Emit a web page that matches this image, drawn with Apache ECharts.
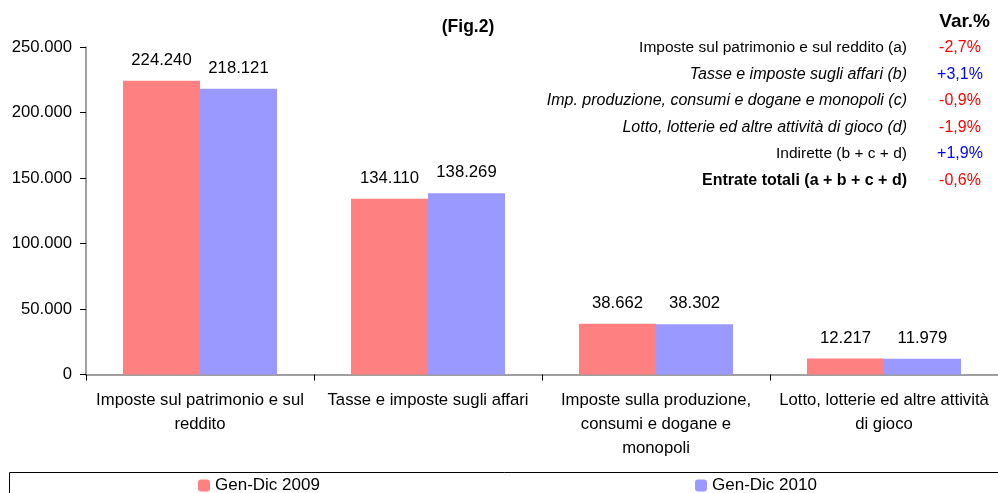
<!DOCTYPE html>
<html>
<head>
<meta charset="utf-8">
<script src="https://cdn.jsdelivr.net/npm/echarts@6/dist/echarts.min.js"></script>
<style>
  html, body { margin: 0; padding: 0; background: #fff; }
  #chart { width: 998px; height: 493px; }
</style>
</head>
<body>
<div id="chart"></div>
<script>
// dati (milioni di euro)
const categories = [
  'Imposte sul patrimonio e sul\nreddito',
  'Tasse e imposte sugli affari',
  'Imposte sulla produzione,\nconsumi e dogane e\nmonopoli',
  'Lotto, lotterie ed altre attività\ndi gioco'
]
const gen2009 = [224240, 134110, 38662, 12217]
const gen2010 = [218121, 138269, 38302, 11979]

// tabella variazioni a destra
const varLabels = [
  'Imposte sul patrimonio e sul reddito (a)',
  'Tasse e imposte sugli affari (b)',
  'Imp. produzione, consumi e dogane e monopoli (c)',
  'Lotto, lotterie ed altre attività di gioco (d)',
  'Indirette (b + c + d)',
  'Entrate totali (a + b + c + d)'
]
const varValues = ['-2,7%', '+3,1%', '-0,9%', '-1,9%', '+1,9%', '-0,6%']
const varStyles = ['normal', 'italic', 'italic', 'italic', 'normal', 'bold']

const FONT = '"Liberation Sans", Arial, sans-serif'
const FS = 16.7
const fmt = v => String(v).replace(/\B(?=(\d{3})+(?!\d))/g, '.')

const chart = echarts.init(document.getElementById('chart'))

const graphics = [
  {
    type: 'rect',
    shape: { x: 9.5, y: 472.5, width: 1000, height: 30 },
    style: { fill: 'none', stroke: '#000', lineWidth: 1 },
    z: 0
  },
  {
    type: 'text', x: 990, y: 22,
    style: { text: 'Var.%', font: 'bold 19px ' + FONT, fill: '#000', align: 'right', verticalAlign: 'middle' }
  }
]
varLabels.forEach((t, i) => {
  const y = 48 + i * 26.5
  const st = varStyles[i]
  const font = st === 'italic' ? 'italic 16px ' : st === 'bold' ? 'bold 16px ' : '15.5px '
  graphics.push({
    type: 'text', x: 907, y: y,
    style: { text: t, font: font + FONT, fill: '#000', align: 'right', verticalAlign: 'middle' }
  })
  graphics.push({
    type: 'text', x: 960, y: y,
    style: {
      text: varValues[i], font: '16px ' + FONT,
      fill: varValues[i].startsWith('+') ? '#0000FF' : '#FF0000',
      align: 'center', verticalAlign: 'middle'
    }
  })
})

chart.setOption({
  animation: false,
  backgroundColor: '#fff',
  textStyle: { fontFamily: FONT },
  title: {
    text: '(Fig.2)',
    left: 463, top: 13,
    textAlign: 'center',
    textStyle: { fontSize: 17.5, fontWeight: 'bold', color: '#000', fontFamily: FONT }
  },
  legend: [
    {
      data: ['Gen-Dic 2009'], left: 198, top: 477, padding: 0,
      itemWidth: 12, itemHeight: 12, itemGap: 5,
      textStyle: { fontSize: 17, color: '#000', fontFamily: FONT }
    },
    {
      data: ['Gen-Dic 2010'], left: 695, top: 477, padding: 0,
      itemWidth: 12, itemHeight: 12, itemGap: 5,
      textStyle: { fontSize: 17, color: '#000', fontFamily: FONT }
    }
  ],
  grid: { left: 86, top: 47, width: 918, height: 327.5, containLabel: false },
  xAxis: {
    type: 'category',
    data: categories,
    axisLine: { lineStyle: { color: '#808080', width: 1.5 } },
    axisTick: { show: true, length: 6, lineStyle: { color: '#000' } },
    axisLabel: { color: '#000', fontSize: FS, lineHeight: 24, margin: 14, fontFamily: FONT, interval: 0 }
  },
  yAxis: {
    type: 'value',
    min: 0, max: 250000, interval: 50000,
    axisLine: { show: true, lineStyle: { color: '#808080', width: 1.5 } },
    axisTick: { show: true, length: 6, lineStyle: { color: '#000' } },
    splitLine: { show: false },
    axisLabel: { color: '#000', fontSize: FS, margin: 14, fontFamily: FONT, formatter: fmt }
  },
  series: [
    {
      name: 'Gen-Dic 2009', type: 'bar', data: gen2009,
      barWidth: 77, barGap: '0%',
      itemStyle: { color: '#FF8080' },
      label: { show: true, position: 'top', distance: 12, fontSize: FS, color: '#000', fontFamily: FONT, formatter: p => fmt(p.value) }
    },
    {
      name: 'Gen-Dic 2010', type: 'bar', data: gen2010,
      barWidth: 77,
      itemStyle: { color: '#9999FF' },
      label: { show: true, position: 'top', distance: 12, fontSize: FS, color: '#000', fontFamily: FONT, formatter: p => fmt(p.value) }
    }
  ],
  graphic: graphics
})
</script>
</body>
</html>
